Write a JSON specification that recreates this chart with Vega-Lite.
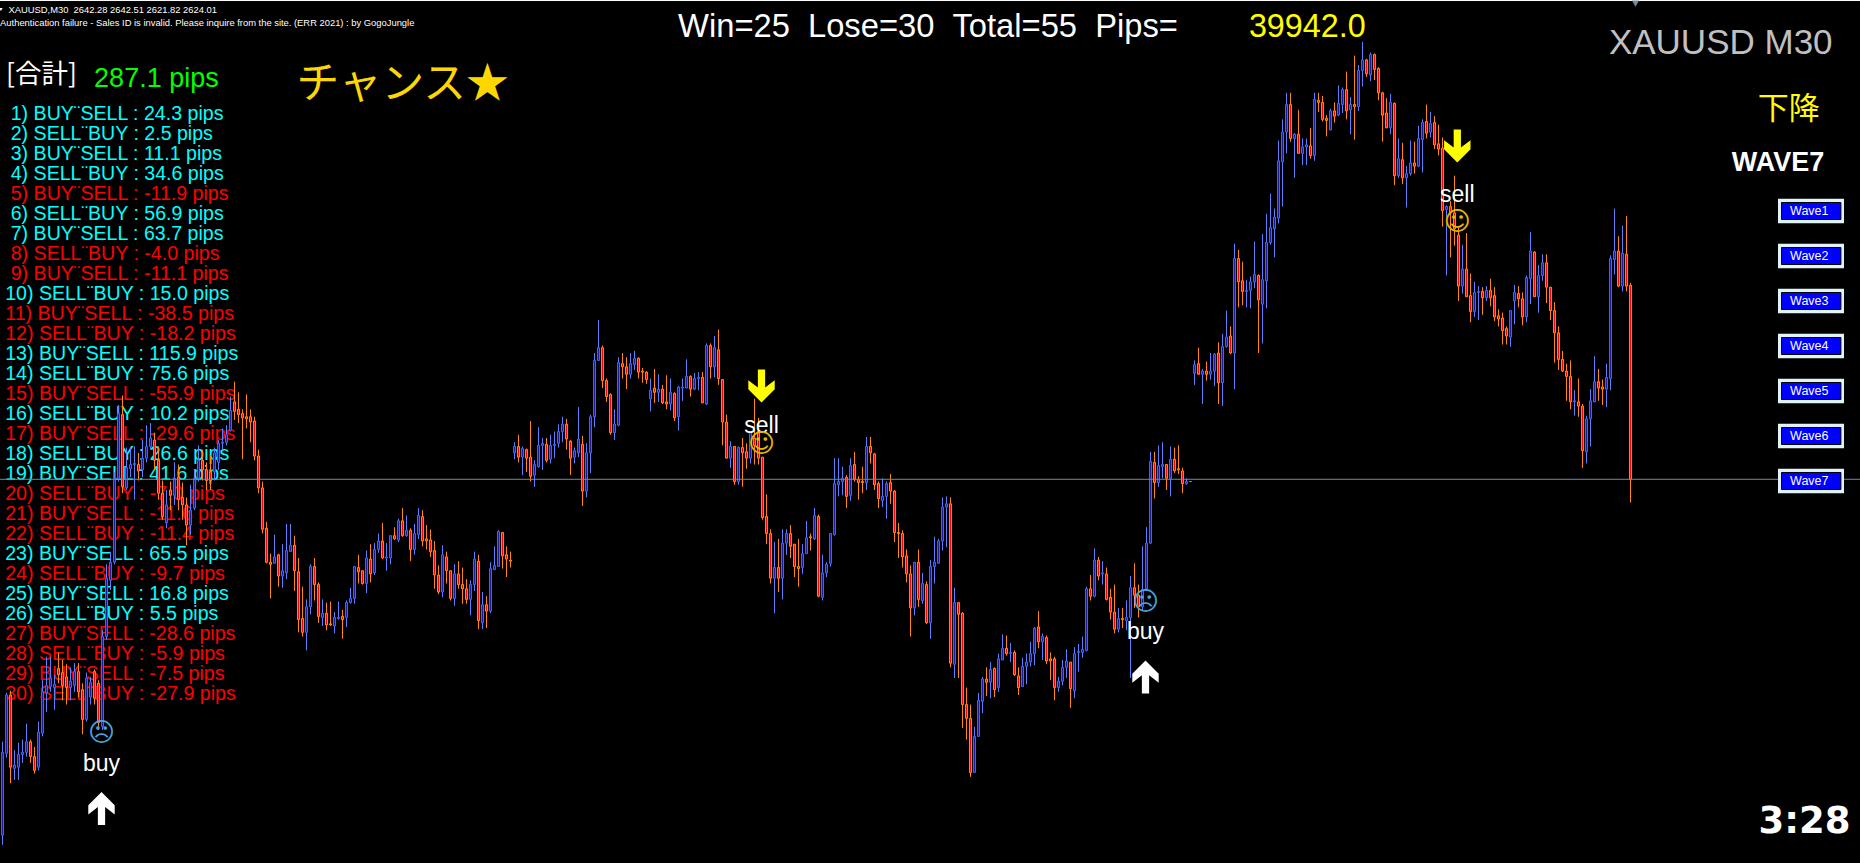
{"$schema":"https://vega.github.io/schema/vega-lite/v6.json","width":1860,"height":863,"padding":0,"autosize":"none","background":"#000000","config":{"view":{"stroke":null}},
"datasets":{
"rows":[
{"i":2.05,"n":1,"r":"win","label":"1) BUY¨SELL : 24.3 pips"},{"i":2.05,"n":2,"r":"win","label":"2) SELL¨BUY : 2.5 pips"},{"i":2.05,"n":3,"r":"win","label":"3) BUY¨SELL : 11.1 pips"},{"i":2.05,"n":4,"r":"win","label":"4) SELL¨BUY : 34.6 pips"},{"i":2.05,"n":5,"r":"loss","label":"5) BUY¨SELL : -11.9 pips"},{"i":2.05,"n":6,"r":"win","label":"6) SELL¨BUY : 56.9 pips"},{"i":2.05,"n":7,"r":"win","label":"7) BUY¨SELL : 63.7 pips"},{"i":2.05,"n":8,"r":"loss","label":"8) SELL¨BUY : -4.0 pips"},{"i":2.05,"n":9,"r":"loss","label":"9) BUY¨SELL : -11.1 pips"},{"i":0.68,"n":10,"r":"win","label":"10) SELL¨BUY : 15.0 pips"},{"i":0.68,"n":11,"r":"loss","label":"11) BUY¨SELL : -38.5 pips"},{"i":0.68,"n":12,"r":"loss","label":"12) SELL¨BUY : -18.2 pips"},{"i":0.68,"n":13,"r":"win","label":"13) BUY¨SELL : 115.9 pips"},{"i":0.68,"n":14,"r":"win","label":"14) SELL¨BUY : 75.6 pips"},{"i":0.68,"n":15,"r":"loss","label":"15) BUY¨SELL : -55.9 pips"},{"i":0.68,"n":16,"r":"win","label":"16) SELL¨BUY : 10.2 pips"},{"i":0.68,"n":17,"r":"loss","label":"17) BUY¨SELL : -29.6 pips"},{"i":0.68,"n":18,"r":"win","label":"18) SELL¨BUY : 26.6 pips"},{"i":0.68,"n":19,"r":"win","label":"19) BUY¨SELL : 41.6 pips"},{"i":0.68,"n":20,"r":"loss","label":"20) SELL¨BUY : -7.0 pips"},{"i":0.68,"n":21,"r":"loss","label":"21) BUY¨SELL : -11.6 pips"},{"i":0.68,"n":22,"r":"loss","label":"22) SELL¨BUY : -11.4 pips"},{"i":0.68,"n":23,"r":"win","label":"23) BUY¨SELL : 65.5 pips"},{"i":0.68,"n":24,"r":"loss","label":"24) SELL¨BUY : -9.7 pips"},{"i":0.68,"n":25,"r":"win","label":"25) BUY¨SELL : 16.8 pips"},{"i":0.68,"n":26,"r":"win","label":"26) SELL¨BUY : 5.5 pips"},{"i":0.68,"n":27,"r":"loss","label":"27) BUY¨SELL : -28.6 pips"},{"i":0.68,"n":28,"r":"loss","label":"28) SELL¨BUY : -5.9 pips"},{"i":0.68,"n":29,"r":"loss","label":"29) BUY¨SELL : -7.5 pips"},{"i":0.68,"n":30,"r":"loss","label":"30) SELL¨BUY : -27.9 pips"}],
"signals":[
{"i":24.75,"arrow":2593.0,"word":2596.5,"face":2600.1,"label":"buy","glyph":"☹"},
{"i":285.75,"arrow":2605.4,"word":2609.0,"face":2612.5,"label":"buy","glyph":"☹"},
{"i":189.75,"arrow":2632.8,"word":2628.4,"face":2627.3,"label":"sell","glyph":"☺"},
{"i":363.7,"arrow":2655.4,"word":2650.1,"face":2648.2,"label":"sell","glyph":"☺"}],
"buttons":[{"i":451.7,"n":1,"label":"Wave1"},{"i":451.7,"n":2,"label":"Wave2"},{"i":451.7,"n":3,"label":"Wave3"},{"i":451.7,"n":4,"label":"Wave4"},{"i":451.7,"n":5,"label":"Wave5"},{"i":451.7,"n":6,"label":"Wave6"},{"i":451.7,"n":7,"label":"Wave7"}],
"candles":[
{"i":0,"o":2590.5,"h":2599.3,"l":2589.6,"c":2598.3},{"i":1,"o":2598.2,"h":2603.9,"l":2597.8,"c":2603.7},{"i":2,"o":2603.7,"h":2604.1,"l":2595.4,"c":2596.9},{"i":3,"o":2596.8,"h":2598.5,"l":2595.7,"c":2597.1},{"i":4,"o":2596.9,"h":2599.2,"l":2595.7,"c":2598.1},{"i":5,"o":2598.1,"h":2599.5,"l":2597.3,"c":2598.3},{"i":6,"o":2598.3,"h":2601.0,"l":2597.9,"c":2599.3},{"i":7,"o":2599.3,"h":2599.5,"l":2597.3,"c":2597.9},{"i":8,"o":2597.9,"h":2598.8,"l":2596.3,"c":2596.6},{"i":9,"o":2596.9,"h":2601.2,"l":2596.6,"c":2600.2},
{"i":10,"o":2600.1,"h":2605.1,"l":2599.8,"c":2604.0},{"i":11,"o":2603.9,"h":2607.3,"l":2602.1,"c":2604.6},{"i":12,"o":2604.5,"h":2607.3,"l":2604.0,"c":2605.3},{"i":13,"o":2604.4,"h":2605.6,"l":2602.3,"c":2604.7},{"i":14,"o":2606.2,"h":2607.7,"l":2604.8,"c":2605.6},{"i":15,"o":2605.8,"h":2607.0,"l":2603.2,"c":2604.6},{"i":16,"o":2605.4,"h":2606.6,"l":2602.8,"c":2604.4},{"i":17,"o":2604.4,"h":2606.3,"l":2603.2,"c":2605.0},{"i":18,"o":2604.6,"h":2606.7,"l":2604.0,"c":2605.9},{"i":19,"o":2605.9,"h":2606.7,"l":2603.5,"c":2604.0},
{"i":20,"o":2604.2,"h":2604.8,"l":2600.0,"c":2601.4},{"i":21,"o":2601.4,"h":2605.8,"l":2601.2,"c":2605.3},{"i":22,"o":2603.5,"h":2605.4,"l":2602.8,"c":2604.9},{"i":23,"o":2605.9,"h":2606.1,"l":2602.8,"c":2603.4},{"i":24,"o":2604.8,"h":2605.1,"l":2600.4,"c":2601.1},{"i":25,"o":2600.7,"h":2609.8,"l":2600.4,"c":2609.2},{"i":26,"o":2609.2,"h":2616.0,"l":2608.9,"c":2614.7},{"i":27,"o":2614.5,"h":2617.2,"l":2613.6,"c":2616.2},{"i":28,"o":2616.2,"h":2624.7,"l":2616.0,"c":2624.1},{"i":29,"o":2624.1,"h":2631.0,"l":2623.8,"c":2630.2},
{"i":30,"o":2630.1,"h":2631.9,"l":2622.7,"c":2623.3},{"i":31,"o":2623.2,"h":2627.0,"l":2623.0,"c":2625.1},{"i":32,"o":2625.0,"h":2627.0,"l":2624.2,"c":2625.4},{"i":33,"o":2625.4,"h":2627.1,"l":2622.1,"c":2625.5},{"i":34,"o":2625.4,"h":2626.5,"l":2623.9,"c":2624.8},{"i":35,"o":2624.9,"h":2627.7,"l":2624.2,"c":2626.0},{"i":36,"o":2626.0,"h":2629.1,"l":2625.6,"c":2627.1},{"i":37,"o":2627.1,"h":2629.3,"l":2626.8,"c":2627.9},{"i":38,"o":2627.7,"h":2628.4,"l":2624.9,"c":2625.8},{"i":39,"o":2625.8,"h":2627.1,"l":2622.1,"c":2622.7},
{"i":40,"o":2622.7,"h":2623.9,"l":2620.2,"c":2620.5},{"i":41,"o":2619.9,"h":2623.0,"l":2619.4,"c":2621.6},{"i":42,"o":2623.0,"h":2623.8,"l":2621.1,"c":2622.5},{"i":43,"o":2622.5,"h":2625.6,"l":2621.6,"c":2624.1},{"i":44,"o":2624.2,"h":2625.4,"l":2621.1,"c":2622.1},{"i":45,"o":2622.3,"h":2623.7,"l":2620.2,"c":2621.6},{"i":46,"o":2621.6,"h":2622.3,"l":2617.8,"c":2619.7},{"i":47,"o":2619.7,"h":2623.5,"l":2618.8,"c":2621.1},{"i":48,"o":2621.3,"h":2624.9,"l":2621.1,"c":2624.1},{"i":49,"o":2624.1,"h":2627.2,"l":2623.8,"c":2625.8},
{"i":50,"o":2625.8,"h":2626.8,"l":2623.9,"c":2624.9},{"i":51,"o":2624.9,"h":2625.6,"l":2623.0,"c":2623.9},{"i":52,"o":2624.7,"h":2626.3,"l":2623.0,"c":2623.9},{"i":53,"o":2624.7,"h":2627.0,"l":2623.9,"c":2626.5},{"i":54,"o":2625.6,"h":2627.7,"l":2624.9,"c":2627.4},{"i":55,"o":2627.4,"h":2628.8,"l":2626.8,"c":2627.5},{"i":56,"o":2627.5,"h":2629.1,"l":2627.2,"c":2628.2},{"i":57,"o":2628.6,"h":2631.8,"l":2628.5,"c":2630.5},{"i":58,"o":2631.3,"h":2633.2,"l":2629.6,"c":2630.4},{"i":59,"o":2630.6,"h":2632.2,"l":2629.3,"c":2630.1},
{"i":60,"o":2630.2,"h":2630.6,"l":2625.9,"c":2629.8},{"i":61,"o":2629.9,"h":2632.0,"l":2628.8,"c":2629.7},{"i":62,"o":2629.9,"h":2630.6,"l":2627.5,"c":2629.4},{"i":63,"o":2629.5,"h":2629.9,"l":2625.8,"c":2626.2},{"i":64,"o":2626.2,"h":2626.8,"l":2622.7,"c":2623.2},{"i":65,"o":2623.2,"h":2623.8,"l":2618.9,"c":2619.3},{"i":66,"o":2619.4,"h":2620.0,"l":2616.1,"c":2616.2},{"i":67,"o":2616.2,"h":2617.0,"l":2612.8,"c":2616.0},{"i":68,"o":2616.1,"h":2618.8,"l":2616.1,"c":2616.7},{"i":69,"o":2616.9,"h":2617.0,"l":2613.9,"c":2614.9},
{"i":70,"o":2614.9,"h":2617.9,"l":2613.8,"c":2615.4},{"i":71,"o":2615.2,"h":2619.8,"l":2614.6,"c":2617.3},{"i":72,"o":2617.2,"h":2619.8,"l":2617.2,"c":2617.8},{"i":73,"o":2617.8,"h":2618.7,"l":2613.5,"c":2615.4},{"i":74,"o":2615.3,"h":2616.6,"l":2609.6,"c":2610.8},{"i":75,"o":2610.9,"h":2613.9,"l":2609.2,"c":2609.6},{"i":76,"o":2609.6,"h":2612.7,"l":2607.9,"c":2612.0},{"i":77,"o":2612.0,"h":2616.0,"l":2611.3,"c":2615.8},{"i":78,"o":2615.8,"h":2616.6,"l":2612.6,"c":2614.1},{"i":79,"o":2614.1,"h":2614.3,"l":2610.5,"c":2611.1},
{"i":80,"o":2611.0,"h":2612.7,"l":2610.2,"c":2611.4},{"i":81,"o":2611.4,"h":2612.4,"l":2609.8,"c":2610.3},{"i":82,"o":2610.4,"h":2612.5,"l":2610.2,"c":2610.3},{"i":83,"o":2610.2,"h":2611.5,"l":2609.5,"c":2611.0},{"i":84,"o":2610.9,"h":2612.5,"l":2610.8,"c":2611.0},{"i":85,"o":2611.1,"h":2611.7,"l":2609.0,"c":2610.8},{"i":86,"o":2611.0,"h":2612.6,"l":2610.1,"c":2612.4},{"i":87,"o":2612.4,"h":2613.8,"l":2612.3,"c":2612.8},{"i":88,"o":2612.8,"h":2615.8,"l":2612.3,"c":2615.8},{"i":89,"o":2615.7,"h":2616.9,"l":2614.2,"c":2615.3},
{"i":90,"o":2615.4,"h":2615.4,"l":2614.1,"c":2614.2},{"i":91,"o":2614.2,"h":2617.3,"l":2613.3,"c":2616.6},{"i":92,"o":2616.5,"h":2617.9,"l":2614.3,"c":2615.1},{"i":93,"o":2615.2,"h":2618.0,"l":2615.0,"c":2617.4},{"i":94,"o":2617.4,"h":2618.9,"l":2617.1,"c":2618.2},{"i":95,"o":2618.2,"h":2619.9,"l":2616.5,"c":2616.6},{"i":96,"o":2616.6,"h":2618.0,"l":2615.4,"c":2616.7},{"i":97,"o":2616.6,"h":2618.7,"l":2616.0,"c":2618.7},{"i":98,"o":2618.7,"h":2619.5,"l":2618.3,"c":2618.4},{"i":99,"o":2618.3,"h":2620.3,"l":2618.1,"c":2620.1},
{"i":100,"o":2620.1,"h":2621.3,"l":2618.6,"c":2618.7},{"i":101,"o":2618.7,"h":2620.6,"l":2618.6,"c":2619.2},{"i":102,"o":2619.2,"h":2619.4,"l":2616.3,"c":2617.4},{"i":103,"o":2617.4,"h":2619.8,"l":2616.9,"c":2618.9},{"i":104,"o":2618.8,"h":2621.3,"l":2618.4,"c":2620.6},{"i":105,"o":2620.5,"h":2621.1,"l":2617.7,"c":2618.2},{"i":106,"o":2618.4,"h":2619.7,"l":2617.4,"c":2618.2},{"i":107,"o":2618.3,"h":2619.3,"l":2616.7,"c":2617.2},{"i":108,"o":2617.3,"h":2618.2,"l":2613.7,"c":2615.0},{"i":109,"o":2615.0,"h":2615.9,"l":2613.2,"c":2613.4},
{"i":110,"o":2613.4,"h":2617.8,"l":2612.9,"c":2616.9},{"i":111,"o":2616.7,"h":2617.2,"l":2614.2,"c":2615.4},{"i":112,"o":2615.4,"h":2615.4,"l":2612.6,"c":2612.8},{"i":113,"o":2612.8,"h":2616.0,"l":2612.1,"c":2615.1},{"i":114,"o":2615.1,"h":2616.3,"l":2613.7,"c":2614.1},{"i":115,"o":2614.1,"h":2615.7,"l":2612.3,"c":2613.7},{"i":116,"o":2613.7,"h":2614.6,"l":2612.3,"c":2612.7},{"i":117,"o":2612.7,"h":2614.5,"l":2611.2,"c":2614.1},{"i":118,"o":2614.1,"h":2617.2,"l":2613.5,"c":2616.5},{"i":119,"o":2616.3,"h":2616.9,"l":2609.9,"c":2610.7},
{"i":120,"o":2610.5,"h":2613.4,"l":2609.9,"c":2612.2},{"i":121,"o":2612.2,"h":2613.0,"l":2610.0,"c":2611.6},{"i":122,"o":2611.6,"h":2616.2,"l":2611.4,"c":2615.6},{"i":123,"o":2615.5,"h":2617.7,"l":2615.5,"c":2615.9},{"i":124,"o":2615.8,"h":2619.2,"l":2615.8,"c":2619.1},{"i":125,"o":2619.0,"h":2619.0,"l":2615.6,"c":2616.8},{"i":126,"o":2616.9,"h":2617.7,"l":2614.8,"c":2616.5},{"i":127,"o":2616.4,"h":2617.2,"l":2615.7,"c":2616.3},{"i":128,"o":2626.5,"h":2627.5,"l":2625.9,"c":2627.1},{"i":129,"o":2627.1,"h":2628.2,"l":2625.6,"c":2626.1},
{"i":130,"o":2626.1,"h":2627.1,"l":2624.4,"c":2626.9},{"i":131,"o":2626.8,"h":2626.9,"l":2624.7,"c":2626.0},{"i":132,"o":2626.1,"h":2629.5,"l":2623.8,"c":2624.3},{"i":133,"o":2624.4,"h":2625.8,"l":2623.3,"c":2625.4},{"i":134,"o":2625.2,"h":2628.9,"l":2625.1,"c":2627.2},{"i":135,"o":2627.2,"h":2627.9,"l":2624.9,"c":2627.4},{"i":136,"o":2627.3,"h":2627.9,"l":2625.6,"c":2625.8},{"i":137,"o":2625.9,"h":2628.2,"l":2625.5,"c":2627.2},{"i":138,"o":2627.2,"h":2628.5,"l":2626.0,"c":2627.3},{"i":139,"o":2627.4,"h":2629.2,"l":2627.0,"c":2628.5},
{"i":140,"o":2628.5,"h":2629.9,"l":2627.5,"c":2629.2},{"i":141,"o":2629.2,"h":2629.7,"l":2626.8,"c":2627.8},{"i":142,"o":2627.6,"h":2627.7,"l":2624.4,"c":2626.0},{"i":143,"o":2626.1,"h":2627.0,"l":2625.5,"c":2626.7},{"i":144,"o":2626.5,"h":2630.8,"l":2626.1,"c":2627.8},{"i":145,"o":2627.3,"h":2628.1,"l":2621.5,"c":2622.9},{"i":146,"o":2622.9,"h":2627.4,"l":2622.3,"c":2626.5},{"i":147,"o":2626.5,"h":2630.1,"l":2624.6,"c":2629.9},{"i":148,"o":2629.9,"h":2635.9,"l":2628.9,"c":2635.2},{"i":149,"o":2635.2,"h":2639.0,"l":2635.2,"c":2636.4},
{"i":150,"o":2636.4,"h":2636.6,"l":2632.6,"c":2633.3},{"i":151,"o":2633.3,"h":2633.5,"l":2631.3,"c":2631.8},{"i":152,"o":2632.0,"h":2632.1,"l":2628.2,"c":2628.4},{"i":153,"o":2628.4,"h":2630.6,"l":2627.7,"c":2629.2},{"i":154,"o":2629.1,"h":2635.5,"l":2629.0,"c":2635.0},{"i":155,"o":2634.9,"h":2635.9,"l":2633.5,"c":2634.6},{"i":156,"o":2634.6,"h":2635.5,"l":2632.5,"c":2633.9},{"i":157,"o":2633.9,"h":2635.9,"l":2633.5,"c":2634.9},{"i":158,"o":2634.8,"h":2636.1,"l":2634.3,"c":2635.4},{"i":159,"o":2635.4,"h":2635.5,"l":2633.5,"c":2634.1},
{"i":160,"o":2634.2,"h":2634.5,"l":2633.1,"c":2634.1},{"i":161,"o":2634.1,"h":2634.2,"l":2633.0,"c":2633.4},{"i":162,"o":2631.6,"h":2633.5,"l":2630.4,"c":2632.4},{"i":163,"o":2632.6,"h":2634.4,"l":2631.2,"c":2632.2},{"i":164,"o":2632.2,"h":2633.9,"l":2631.3,"c":2632.5},{"i":165,"o":2632.5,"h":2632.9,"l":2631.1,"c":2631.2},{"i":166,"o":2631.3,"h":2633.8,"l":2630.6,"c":2631.1},{"i":167,"o":2631.1,"h":2633.5,"l":2630.5,"c":2632.2},{"i":168,"o":2632.1,"h":2632.2,"l":2629.5,"c":2629.8},{"i":169,"o":2629.9,"h":2632.8,"l":2628.6,"c":2632.7},
{"i":170,"o":2632.6,"h":2633.5,"l":2631.4,"c":2632.7},{"i":171,"o":2632.6,"h":2635.3,"l":2632.6,"c":2633.7},{"i":172,"o":2633.7,"h":2633.8,"l":2631.8,"c":2632.5},{"i":173,"o":2632.5,"h":2634.0,"l":2632.4,"c":2633.5},{"i":174,"o":2633.5,"h":2634.1,"l":2632.4,"c":2633.6},{"i":175,"o":2633.6,"h":2634.1,"l":2631.2,"c":2631.2},{"i":176,"o":2631.1,"h":2636.8,"l":2631.0,"c":2636.6},{"i":177,"o":2636.6,"h":2636.8,"l":2633.5,"c":2634.6},{"i":178,"o":2634.6,"h":2637.5,"l":2633.6,"c":2636.4},{"i":179,"o":2636.2,"h":2638.1,"l":2632.9,"c":2633.5},
{"i":180,"o":2633.4,"h":2633.4,"l":2627.2,"c":2629.4},{"i":181,"o":2629.4,"h":2630.1,"l":2626.0,"c":2626.0},{"i":182,"o":2626.0,"h":2627.6,"l":2625.1,"c":2627.1},{"i":183,"o":2627.1,"h":2627.1,"l":2623.5,"c":2623.8},{"i":184,"o":2623.8,"h":2627.1,"l":2623.5,"c":2627.0},{"i":185,"o":2627.0,"h":2627.9,"l":2623.3,"c":2626.5},{"i":186,"o":2626.6,"h":2627.4,"l":2625.0,"c":2626.0},{"i":187,"o":2626.0,"h":2628.5,"l":2625.5,"c":2628.5},{"i":188,"o":2627.9,"h":2631.6,"l":2625.4,"c":2627.2},{"i":189,"o":2628.5,"h":2629.8,"l":2625.4,"c":2626.0},
{"i":190,"o":2626.1,"h":2626.1,"l":2620.2,"c":2620.4},{"i":191,"o":2620.5,"h":2622.6,"l":2617.9,"c":2618.9},{"i":192,"o":2618.9,"h":2619.3,"l":2614.2,"c":2614.7},{"i":193,"o":2614.7,"h":2618.1,"l":2611.4,"c":2615.7},{"i":194,"o":2615.7,"h":2618.4,"l":2613.4,"c":2614.7},{"i":195,"o":2614.7,"h":2619.3,"l":2612.7,"c":2618.0},{"i":196,"o":2618.0,"h":2619.3,"l":2616.9,"c":2618.9},{"i":197,"o":2618.9,"h":2619.7,"l":2616.6,"c":2617.7},{"i":198,"o":2617.9,"h":2617.9,"l":2614.8,"c":2615.8},{"i":199,"o":2615.8,"h":2618.4,"l":2613.9,"c":2615.6},
{"i":200,"o":2615.7,"h":2617.9,"l":2615.1,"c":2617.0},{"i":201,"o":2617.0,"h":2620.1,"l":2617.0,"c":2618.5},{"i":202,"o":2618.6,"h":2618.9,"l":2617.3,"c":2618.5},{"i":203,"o":2618.4,"h":2621.3,"l":2618.3,"c":2620.6},{"i":204,"o":2620.5,"h":2620.7,"l":2612.9,"c":2613.0},{"i":205,"o":2612.9,"h":2616.9,"l":2612.6,"c":2615.2},{"i":206,"o":2615.2,"h":2616.2,"l":2614.8,"c":2616.0},{"i":207,"o":2616.1,"h":2618.9,"l":2615.8,"c":2618.9},{"i":208,"o":2618.8,"h":2626.0,"l":2618.7,"c":2623.6},{"i":209,"o":2623.5,"h":2626.0,"l":2622.4,"c":2623.8},
{"i":210,"o":2623.8,"h":2625.2,"l":2622.5,"c":2624.1},{"i":211,"o":2624.2,"h":2624.4,"l":2621.3,"c":2622.4},{"i":212,"o":2622.5,"h":2626.0,"l":2622.0,"c":2625.3},{"i":213,"o":2625.4,"h":2626.6,"l":2623.8,"c":2624.0},{"i":214,"o":2624.0,"h":2624.3,"l":2622.1,"c":2623.7},{"i":215,"o":2623.8,"h":2625.2,"l":2622.7,"c":2623.7},{"i":216,"o":2623.7,"h":2628.0,"l":2623.0,"c":2627.1},{"i":217,"o":2627.1,"h":2628.0,"l":2625.5,"c":2626.5},{"i":218,"o":2626.4,"h":2626.5,"l":2623.0,"c":2623.5},{"i":219,"o":2623.6,"h":2623.8,"l":2621.3,"c":2622.2},
{"i":220,"o":2622.0,"h":2624.1,"l":2621.4,"c":2622.4},{"i":221,"o":2622.4,"h":2623.8,"l":2620.3,"c":2623.6},{"i":222,"o":2623.7,"h":2624.5,"l":2621.7,"c":2622.9},{"i":223,"o":2622.9,"h":2623.0,"l":2618.1,"c":2619.0},{"i":224,"o":2619.0,"h":2619.9,"l":2616.6,"c":2618.9},{"i":225,"o":2618.9,"h":2619.2,"l":2615.7,"c":2616.7},{"i":226,"o":2616.8,"h":2617.4,"l":2614.3,"c":2615.1},{"i":227,"o":2615.1,"h":2615.9,"l":2609.2,"c":2611.9},{"i":228,"o":2611.9,"h":2616.2,"l":2611.2,"c":2616.2},{"i":229,"o":2616.2,"h":2617.4,"l":2612.0,"c":2612.7},
{"i":230,"o":2612.6,"h":2615.2,"l":2612.3,"c":2614.2},{"i":231,"o":2614.1,"h":2614.4,"l":2610.4,"c":2610.5},{"i":232,"o":2610.5,"h":2616.4,"l":2609.0,"c":2615.8},{"i":233,"o":2615.8,"h":2618.6,"l":2614.2,"c":2616.2},{"i":234,"o":2616.1,"h":2618.4,"l":2616.1,"c":2618.2},{"i":235,"o":2618.2,"h":2622.3,"l":2617.3,"c":2621.4},{"i":236,"o":2621.4,"h":2622.4,"l":2617.6,"c":2621.7},{"i":237,"o":2621.7,"h":2622.3,"l":2606.3,"c":2606.7},{"i":238,"o":2606.6,"h":2613.8,"l":2605.3,"c":2612.4},{"i":239,"o":2612.4,"h":2612.4,"l":2605.3,"c":2611.3},
{"i":240,"o":2611.4,"h":2611.5,"l":2600.6,"c":2602.8},{"i":241,"o":2602.8,"h":2604.4,"l":2599.5,"c":2601.5},{"i":242,"o":2601.5,"h":2602.8,"l":2596.0,"c":2596.4},{"i":243,"o":2596.4,"h":2600.7,"l":2596.4,"c":2599.8},{"i":244,"o":2599.8,"h":2603.9,"l":2599.8,"c":2603.2},{"i":245,"o":2603.1,"h":2605.4,"l":2602.0,"c":2605.2},{"i":246,"o":2605.2,"h":2606.3,"l":2603.6,"c":2604.9},{"i":247,"o":2604.9,"h":2606.8,"l":2603.4,"c":2606.1},{"i":248,"o":2606.2,"h":2606.3,"l":2603.5,"c":2604.2},{"i":249,"o":2604.4,"h":2607.6,"l":2604.0,"c":2607.1},
{"i":250,"o":2607.0,"h":2609.4,"l":2607.0,"c":2608.1},{"i":251,"o":2608.1,"h":2609.3,"l":2607.4,"c":2607.6},{"i":252,"o":2607.6,"h":2608.6,"l":2606.8,"c":2607.7},{"i":253,"o":2607.7,"h":2607.9,"l":2605.5,"c":2605.6},{"i":254,"o":2605.5,"h":2606.3,"l":2603.7,"c":2604.4},{"i":255,"o":2604.5,"h":2607.2,"l":2604.5,"c":2606.4},{"i":256,"o":2606.4,"h":2607.6,"l":2604.7,"c":2606.8},{"i":257,"o":2606.8,"h":2608.7,"l":2606.4,"c":2607.6},{"i":258,"o":2607.6,"h":2610.1,"l":2606.5,"c":2610.0},{"i":259,"o":2610.1,"h":2611.6,"l":2608.1,"c":2608.7},
{"i":260,"o":2608.7,"h":2609.5,"l":2607.0,"c":2609.2},{"i":261,"o":2609.1,"h":2609.3,"l":2606.6,"c":2606.9},{"i":262,"o":2607.1,"h":2607.7,"l":2605.1,"c":2606.9},{"i":263,"o":2607.1,"h":2607.3,"l":2603.2,"c":2604.4},{"i":264,"o":2604.4,"h":2605.4,"l":2604.0,"c":2605.0},{"i":265,"o":2605.0,"h":2607.0,"l":2604.6,"c":2606.3},{"i":266,"o":2606.3,"h":2608.0,"l":2605.3,"c":2606.9},{"i":267,"o":2606.8,"h":2606.8,"l":2602.5,"c":2604.3},{"i":268,"o":2604.1,"h":2608.2,"l":2603.4,"c":2607.6},{"i":269,"o":2607.7,"h":2608.5,"l":2605.9,"c":2607.8},
{"i":270,"o":2607.7,"h":2609.2,"l":2607.2,"c":2608.0},{"i":271,"o":2607.9,"h":2613.9,"l":2607.8,"c":2613.7},{"i":272,"o":2613.7,"h":2615.0,"l":2612.6,"c":2613.0},{"i":273,"o":2613.0,"h":2617.5,"l":2612.9,"c":2616.4},{"i":274,"o":2616.4,"h":2616.7,"l":2614.5,"c":2614.9},{"i":275,"o":2615.1,"h":2616.3,"l":2614.1,"c":2615.2},{"i":276,"o":2615.1,"h":2615.7,"l":2612.6,"c":2612.7},{"i":277,"o":2612.9,"h":2613.7,"l":2610.8,"c":2611.5},{"i":278,"o":2611.5,"h":2614.1,"l":2609.5,"c":2609.9},{"i":279,"o":2609.9,"h":2611.9,"l":2609.6,"c":2610.9},
{"i":280,"o":2610.9,"h":2611.9,"l":2610.0,"c":2610.8},{"i":281,"o":2610.7,"h":2612.6,"l":2609.8,"c":2611.0},{"i":282,"o":2611.0,"h":2614.9,"l":2605.3,"c":2613.8},{"i":283,"o":2613.8,"h":2616.1,"l":2611.9,"c":2613.1},{"i":284,"o":2613.1,"h":2614.1,"l":2611.0,"c":2612.0},{"i":285,"o":2612.0,"h":2617.7,"l":2611.7,"c":2613.6},{"i":286,"o":2613.7,"h":2619.5,"l":2613.6,"c":2618.0},{"i":287,"o":2618.0,"h":2626.6,"l":2617.9,"c":2625.7},{"i":288,"o":2625.6,"h":2626.6,"l":2622.2,"c":2623.7},{"i":289,"o":2623.7,"h":2627.2,"l":2623.3,"c":2625.3},
{"i":290,"o":2625.2,"h":2627.5,"l":2624.1,"c":2625.4},{"i":291,"o":2625.4,"h":2625.4,"l":2623.0,"c":2624.1},{"i":292,"o":2624.1,"h":2627.1,"l":2622.4,"c":2625.9},{"i":293,"o":2625.9,"h":2627.0,"l":2624.6,"c":2624.8},{"i":294,"o":2625.0,"h":2627.2,"l":2624.5,"c":2624.9},{"i":295,"o":2624.8,"h":2625.1,"l":2622.7,"c":2623.6},{"i":296,"o":2623.6,"h":2624.1,"l":2623.5,"c":2623.8},{"i":297,"o":2623.8,"h":2623.8,"l":2623.8,"c":2623.8},{"i":298,"o":2634.0,"h":2635.2,"l":2632.9,"c":2634.8},{"i":299,"o":2634.9,"h":2636.4,"l":2633.9,"c":2633.9},
{"i":300,"o":2633.9,"h":2634.4,"l":2631.1,"c":2634.2},{"i":301,"o":2634.2,"h":2635.1,"l":2633.3,"c":2633.9},{"i":302,"o":2633.9,"h":2635.9,"l":2633.4,"c":2634.2},{"i":303,"o":2634.2,"h":2635.9,"l":2632.8,"c":2635.8},{"i":304,"o":2635.9,"h":2636.9,"l":2631.1,"c":2633.1},{"i":305,"o":2633.1,"h":2637.7,"l":2630.9,"c":2636.5},{"i":306,"o":2636.5,"h":2639.9,"l":2636.4,"c":2637.4},{"i":307,"o":2637.5,"h":2638.4,"l":2635.8,"c":2635.9},{"i":308,"o":2635.9,"h":2646.2,"l":2632.5,"c":2644.8},{"i":309,"o":2644.8,"h":2645.6,"l":2640.2,"c":2642.6},
{"i":310,"o":2642.7,"h":2644.5,"l":2640.4,"c":2641.7},{"i":311,"o":2641.7,"h":2642.8,"l":2640.2,"c":2641.8},{"i":312,"o":2641.8,"h":2643.1,"l":2640.1,"c":2642.6},{"i":313,"o":2642.6,"h":2646.4,"l":2642.0,"c":2643.3},{"i":314,"o":2643.2,"h":2643.3,"l":2635.9,"c":2640.9},{"i":315,"o":2640.5,"h":2647.1,"l":2636.8,"c":2642.8},{"i":316,"o":2642.7,"h":2649.0,"l":2640.1,"c":2646.3},{"i":317,"o":2646.3,"h":2650.9,"l":2646.1,"c":2647.7},{"i":318,"o":2647.6,"h":2649.5,"l":2644.9,"c":2648.7},{"i":319,"o":2648.6,"h":2655.9,"l":2648.1,"c":2654.0},
{"i":320,"o":2653.9,"h":2657.9,"l":2649.7,"c":2656.7},{"i":321,"o":2656.7,"h":2660.4,"l":2654.7,"c":2659.3},{"i":322,"o":2659.3,"h":2660.4,"l":2655.8,"c":2656.1},{"i":323,"o":2656.1,"h":2656.6,"l":2652.4,"c":2656.5},{"i":324,"o":2656.5,"h":2658.8,"l":2654.7,"c":2654.7},{"i":325,"o":2654.7,"h":2656.1,"l":2653.6,"c":2655.3},{"i":326,"o":2655.3,"h":2656.1,"l":2653.6,"c":2655.5},{"i":327,"o":2655.4,"h":2657.1,"l":2654.2,"c":2654.5},{"i":328,"o":2654.5,"h":2660.4,"l":2654.0,"c":2659.8},{"i":329,"o":2659.7,"h":2660.4,"l":2658.6,"c":2659.5},
{"i":330,"o":2659.5,"h":2660.1,"l":2657.7,"c":2657.9},{"i":331,"o":2658.0,"h":2658.3,"l":2656.3,"c":2657.8},{"i":332,"o":2656.9,"h":2658.9,"l":2656.9,"c":2658.7},{"i":333,"o":2658.7,"h":2659.5,"l":2657.6,"c":2658.2},{"i":334,"o":2658.3,"h":2661.1,"l":2658.2,"c":2659.4},{"i":335,"o":2659.3,"h":2660.9,"l":2658.5,"c":2660.7},{"i":336,"o":2660.7,"h":2662.4,"l":2657.9,"c":2658.7},{"i":337,"o":2658.8,"h":2660.0,"l":2656.5,"c":2659.3},{"i":338,"o":2659.3,"h":2663.9,"l":2656.0,"c":2659.1},{"i":339,"o":2659.1,"h":2663.0,"l":2658.7,"c":2662.5},
{"i":340,"o":2662.5,"h":2665.2,"l":2661.0,"c":2663.5},{"i":341,"o":2663.5,"h":2663.6,"l":2661.9,"c":2662.2},{"i":342,"o":2662.1,"h":2664.2,"l":2661.5,"c":2664.0},{"i":343,"o":2664.0,"h":2664.1,"l":2661.6,"c":2662.6},{"i":344,"o":2662.7,"h":2662.8,"l":2659.7,"c":2660.4},{"i":345,"o":2660.4,"h":2660.5,"l":2655.8,"c":2658.3},{"i":346,"o":2658.5,"h":2659.9,"l":2657.1,"c":2657.1},{"i":347,"o":2657.1,"h":2660.3,"l":2656.5,"c":2659.5},{"i":348,"o":2659.4,"h":2659.5,"l":2651.7,"c":2652.6},{"i":349,"o":2652.6,"h":2656.1,"l":2652.4,"c":2654.2},
{"i":350,"o":2654.1,"h":2655.7,"l":2651.8,"c":2652.4},{"i":351,"o":2652.4,"h":2653.5,"l":2649.6,"c":2652.8},{"i":352,"o":2652.8,"h":2655.9,"l":2652.6,"c":2653.8},{"i":353,"o":2653.8,"h":2655.8,"l":2652.8,"c":2653.5},{"i":354,"o":2653.5,"h":2657.3,"l":2653.4,"c":2656.1},{"i":355,"o":2656.0,"h":2657.9,"l":2652.9,"c":2657.6},{"i":356,"o":2657.7,"h":2659.3,"l":2656.1,"c":2656.6},{"i":357,"o":2656.7,"h":2658.6,"l":2656.2,"c":2657.5},{"i":358,"o":2657.6,"h":2658.2,"l":2655.1,"c":2655.5},{"i":359,"o":2655.6,"h":2657.4,"l":2654.5,"c":2655.1},
{"i":360,"o":2655.2,"h":2656.2,"l":2647.8,"c":2649.3},{"i":361,"o":2649.4,"h":2649.8,"l":2643.2,"c":2649.7},{"i":362,"o":2649.7,"h":2650.2,"l":2644.9,"c":2649.1},{"i":363,"o":2649.1,"h":2652.6,"l":2646.0,"c":2647.6},{"i":364,"o":2647.0,"h":2647.7,"l":2640.8,"c":2642.2},{"i":365,"o":2642.2,"h":2646.1,"l":2641.5,"c":2643.8},{"i":366,"o":2643.8,"h":2647.2,"l":2641.2,"c":2641.2},{"i":367,"o":2641.3,"h":2643.4,"l":2638.8,"c":2639.8},{"i":368,"o":2639.8,"h":2642.6,"l":2639.3,"c":2641.6},{"i":369,"o":2641.6,"h":2642.2,"l":2639.0,"c":2641.7},
{"i":370,"o":2641.7,"h":2642.1,"l":2639.5,"c":2641.1},{"i":371,"o":2641.1,"h":2642.2,"l":2640.8,"c":2641.8},{"i":372,"o":2641.8,"h":2642.9,"l":2640.3,"c":2641.1},{"i":373,"o":2641.3,"h":2642.1,"l":2638.9,"c":2639.3},{"i":374,"o":2639.4,"h":2640.0,"l":2638.4,"c":2639.1},{"i":375,"o":2639.2,"h":2639.7,"l":2636.7,"c":2638.0},{"i":376,"o":2638.2,"h":2638.4,"l":2636.7,"c":2637.5},{"i":377,"o":2637.4,"h":2639.9,"l":2636.5,"c":2639.9},{"i":378,"o":2640.8,"h":2642.3,"l":2638.6,"c":2641.6},{"i":379,"o":2641.5,"h":2642.2,"l":2640.2,"c":2641.0},
{"i":380,"o":2641.0,"h":2641.6,"l":2638.5,"c":2639.3},{"i":381,"o":2639.3,"h":2643.2,"l":2638.8,"c":2643.0},{"i":382,"o":2642.9,"h":2647.3,"l":2640.5,"c":2645.5},{"i":383,"o":2645.4,"h":2645.5,"l":2641.2,"c":2641.2},{"i":384,"o":2641.2,"h":2644.2,"l":2639.7,"c":2643.2},{"i":385,"o":2643.2,"h":2645.2,"l":2642.7,"c":2644.4},{"i":386,"o":2644.4,"h":2645.2,"l":2640.6,"c":2642.1},{"i":387,"o":2642.1,"h":2642.1,"l":2639.0,"c":2639.9},{"i":388,"o":2639.9,"h":2640.7,"l":2635.0,"c":2637.8},{"i":389,"o":2637.8,"h":2638.4,"l":2634.3,"c":2635.3},
{"i":390,"o":2635.3,"h":2636.1,"l":2634.1,"c":2634.2},{"i":391,"o":2634.2,"h":2634.9,"l":2631.4,"c":2633.7},{"i":392,"o":2633.7,"h":2635.2,"l":2630.6,"c":2631.3},{"i":393,"o":2631.3,"h":2632.4,"l":2630.0,"c":2631.4},{"i":394,"o":2631.3,"h":2633.5,"l":2629.9,"c":2630.9},{"i":395,"o":2630.9,"h":2631.1,"l":2625.1,"c":2626.7},{"i":396,"o":2626.6,"h":2630.0,"l":2625.5,"c":2629.7},{"i":397,"o":2629.7,"h":2632.5,"l":2627.1,"c":2631.4},{"i":398,"o":2631.3,"h":2635.6,"l":2631.3,"c":2633.2},{"i":399,"o":2633.2,"h":2634.4,"l":2631.4,"c":2632.6},
{"i":400,"o":2632.7,"h":2633.4,"l":2631.0,"c":2632.5},{"i":401,"o":2632.5,"h":2634.9,"l":2630.8,"c":2633.6},{"i":402,"o":2633.5,"h":2645.1,"l":2632.4,"c":2644.8},{"i":403,"o":2644.7,"h":2649.5,"l":2643.3,"c":2645.5},{"i":404,"o":2645.5,"h":2646.9,"l":2642.1,"c":2642.2},{"i":405,"o":2642.2,"h":2647.9,"l":2641.7,"c":2645.3},{"i":406,"o":2645.2,"h":2648.8,"l":2641.7,"c":2642.2},{"i":407,"o":2642.28,"h":2642.51,"l":2621.82,"c":2624.01}]
},
"encoding":{"x":{"field":"i","type":"quantitative","axis":null,"scale":{"domain":[-0.625,464.375],"nice":false,"zero":false,"padding":0}}},
"resolve":{"scale":{"y":"independent"}},
"layer":[
{"data":{"name":"rows"},"mark":{"type":"text","align":"left","baseline":"alphabetic","font":"Liberation Sans","fontSize":19.6},"encoding":{"y":{"field":"n","type":"quantitative","axis":null,"scale":{"domain":[-5,38.15],"reverse":true,"nice":false,"zero":false,"padding":0}},"text":{"field":"label"},"color":{"field":"r","type":"nominal","legend":null,"scale":{"domain":["win","loss"],"range":["#00ffff","#ff0000"]}}}},
{"encoding":{"y":{"field":"price","type":"quantitative","axis":null,"scale":{"domain":[2587.88,2669.14],"nice":false,"zero":false,"padding":0}}},"layer":[
{"data":{"name":"candles"},"mark":{"type":"rule","strokeWidth":1},"encoding":{"y":{"field":"h","type":"quantitative","axis":null,"scale":{"domain":[2587.88,2669.14],"nice":false,"zero":false,"padding":0}},"y2":{"field":"l"},"color":{"condition":[{"test":"datum.c>datum.o","value":"#5a82ff"},{"test":"datum.c<datum.o","value":"#ff8c00"}],"value":"#00ff00"}}},
{"data":{"name":"candles"},"mark":{"type":"bar","size":2,"strokeWidth":1},"encoding":{"y":{"field":"o","type":"quantitative","axis":null,"scale":{"domain":[2587.88,2669.14],"nice":false,"zero":false,"padding":0}},"y2":{"field":"c"},"fill":{"condition":[{"test":"datum.c>datum.o","value":"#1a1aa0"},{"test":"datum.c<datum.o","value":"#ff0000"}],"value":"#00ff00"},"stroke":{"condition":[{"test":"datum.c>datum.o","value":"#3a66ff"},{"test":"datum.c<datum.o","value":"#ff8c00"}],"value":"#00ff00"}}},
{"data":{"values":[{"i":0,"price":2624.01}]},"mark":{"type":"rule","color":"#778899","strokeWidth":1},"encoding":{"x":{"value":0},"x2":{"value":1860}}},
{"data":{"values":[{"i":0,"price":2669.09}]},"mark":{"type":"rule","color":"#ffffff","strokeWidth":1},"encoding":{"x":{"value":0},"x2":{"value":1860}}},
{"data":{"name":"signals"},"transform":[{"filter":"datum.label=='buy'"}],"mark":{"type":"point","filled":true,"opacity":1,"color":"#ffffff","size":1089,"shape":"M0,-1L0.8,-0.2L0.8,0.35L0.22,-0.1L0.22,1L-0.22,1L-0.22,-0.1L-0.8,0.35L-0.8,-0.2Z"},"encoding":{"y":{"field":"arrow","type":"quantitative","axis":null,"scale":{"domain":[2587.88,2669.14],"nice":false,"zero":false,"padding":0}}}},
{"data":{"name":"signals"},"transform":[{"filter":"datum.label=='sell'"}],"mark":{"type":"point","filled":true,"opacity":1,"color":"#ffff00","size":1089,"shape":"M0,1L0.8,0.2L0.8,-0.35L0.22,0.1L0.22,-1L-0.22,-1L-0.22,0.1L-0.8,-0.35L-0.8,0.2Z"},"encoding":{"y":{"field":"arrow","type":"quantitative","axis":null,"scale":{"domain":[2587.88,2669.14],"nice":false,"zero":false,"padding":0}}}},
{"data":{"name":"signals"},"mark":{"type":"text","align":"center","baseline":"alphabetic","font":"Liberation Sans","fontSize":23,"color":"#ffffff"},"encoding":{"y":{"field":"word","type":"quantitative","axis":null,"scale":{"domain":[2587.88,2669.14],"nice":false,"zero":false,"padding":0}},"text":{"field":"label"}}},
{"data":{"name":"signals"},"transform":[{"filter":"datum.label=='buy'"}],"mark":{"type":"text","align":"center","baseline":"middle","font":"DejaVu Sans","fontSize":26,"color":"#4aa3df"},"encoding":{"y":{"field":"face","type":"quantitative","axis":null,"scale":{"domain":[2587.88,2669.14],"nice":false,"zero":false,"padding":0}},"text":{"field":"glyph"}}},
{"data":{"name":"signals"},"transform":[{"filter":"datum.label=='sell'"}],"mark":{"type":"text","align":"center","baseline":"middle","font":"DejaVu Sans","fontSize":26,"color":"#e6b800"},"encoding":{"y":{"field":"face","type":"quantitative","axis":null,"scale":{"domain":[2587.88,2669.14],"nice":false,"zero":false,"padding":0}},"text":{"field":"glyph"}}},
{"data":{"values":[{"i":1.5,"price":2667.9,"label":"XAUUSD,M30\u00a0\u00a02642.28 2642.51 2621.82 2624.01"},{"i":-0.6,"price":2666.7,"label":"Authentication failure - Sales ID is invalid. Please inquire from the site. (ERR 2021) : by GogoJungle"}]},"mark":{"type":"text","align":"left","baseline":"alphabetic","font":"Liberation Sans","fontSize":9.4,"color":"#ffffff"},"encoding":{"text":{"field":"label"}}},
{"data":{"values":[{"i":168.9,"price":2665.66,"label":"Win=25\u00a0\u00a0Lose=30\u00a0\u00a0Total=55\u00a0\u00a0Pips="}]},"mark":{"type":"text","align":"left","baseline":"alphabetic","font":"Liberation Sans","fontSize":32.7,"color":"#ffffff"},"encoding":{"text":{"field":"label"}}},
{"data":{"values":[{"i":311.6,"price":2665.66,"label":"39942.0"}]},"mark":{"type":"text","align":"left","baseline":"alphabetic","font":"Liberation Sans","fontSize":32.3,"color":"#ffff00"},"encoding":{"text":{"field":"label"}}},
{"data":{"values":[{"i":401.6,"price":2664.06,"label":"XAUUSD M30"}]},"mark":{"type":"text","align":"left","baseline":"alphabetic","font":"Liberation Sans","fontSize":35,"color":"#c0c0c0"},"encoding":{"text":{"field":"label"}}},
{"data":{"values":[{"i":438.8,"price":2657.9,"label":"下降"}]},"mark":{"type":"text","align":"left","baseline":"alphabetic","font":"Noto Sans CJK JP","fontSize":31,"color":"#ffff00"},"encoding":{"text":{"field":"label"}}},
{"data":{"values":[{"i":432.3,"price":2653.04,"label":"WAVE7"}]},"mark":{"type":"text","align":"left","baseline":"alphabetic","font":"Liberation Sans","fontWeight":"bold","fontSize":27,"color":"#ffffff"},"encoding":{"text":{"field":"label"}}},
{"data":{"values":[{"i":73.5,"price":2659.9,"label":"チャンス★"}]},"mark":{"type":"text","align":"left","baseline":"alphabetic","font":"Noto Sans CJK JP","fontSize":42.7,"color":"#ffd700"},"encoding":{"text":{"field":"label"}}},
{"data":{"values":[{"i":0.9,"price":2661.3,"label":"[合計]"}]},"mark":{"type":"text","align":"left","baseline":"alphabetic","font":"Noto Sans CJK JP","fontSize":26.5,"color":"#ffffff"},"encoding":{"text":{"field":"label"}}},
{"data":{"values":[{"i":22.9,"price":2660.95,"label":"287.1 pips"}]},"mark":{"type":"text","align":"left","baseline":"alphabetic","font":"Liberation Sans","fontSize":27,"color":"#00ff00"},"encoding":{"text":{"field":"label"}}},
{"data":{"values":[{"i":439,"price":2590.7,"label":"3:28"}]},"mark":{"type":"text","align":"left","baseline":"alphabetic","font":"DejaVu Sans","fontWeight":"bold","fontSize":37,"color":"#ffffff"},"encoding":{"text":{"field":"label"}}},
{"data":{"values":[{"i":408.25,"price":2668.8}]},"mark":{"type":"point","shape":"triangle-down","filled":true,"opacity":1,"size":50,"color":"#778899"}},
{"data":{"values":[{"i":-0.4,"price":2668.25}]},"mark":{"type":"point","shape":"triangle-down","filled":true,"opacity":1,"size":12,"color":"#ffffff"}}
]},
{"data":{"name":"buttons"},"encoding":{"y":{"field":"n","type":"quantitative","axis":null,"scale":{"domain":[-3.689,15.489],"reverse":true,"nice":false,"zero":false,"padding":0}}},"layer":[
{"mark":{"type":"bar","size":24.3,"fill":"#dff5f5"},"encoding":{"x":{"datum":443.875,"type":"quantitative","axis":null,"scale":{"domain":[-0.625,464.375],"nice":false,"zero":false,"padding":0}},"x2":{"datum":460.375}}},
{"mark":{"type":"bar","size":17,"fill":"#0000ff","stroke":"#000000","strokeWidth":1},"encoding":{"x":{"datum":444.75,"type":"quantitative","axis":null,"scale":{"domain":[-0.625,464.375],"nice":false,"zero":false,"padding":0}},"x2":{"datum":459.6}}},
{"mark":{"type":"text","align":"center","baseline":"middle","font":"Liberation Sans","fontSize":12.5,"color":"#ffffff"},"encoding":{"text":{"field":"label"}}}
]}
]}
